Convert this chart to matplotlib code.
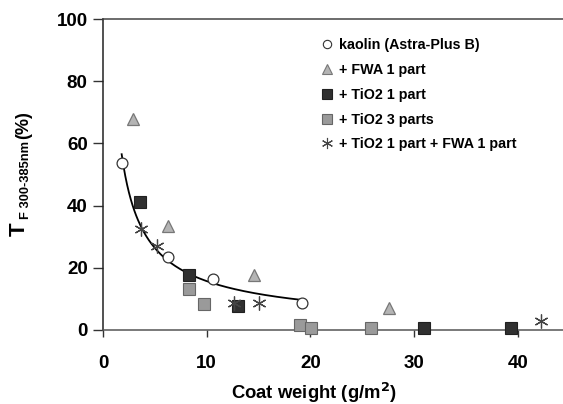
import numpy as np
import matplotlib
matplotlib.use("Agg")
import matplotlib.pyplot as plt
from matplotlib.lines import Line2D

plt.rcParams['font.family'] = ['Liberation Sans', 'DejaVu Sans']
plt.rcParams['font.weight'] = 'bold'

# Data
kaolin_x = [1.8, 6.3, 10.6, 19.2]
kaolin_y = [53.8, 23.6, 16.3, 8.8]
fwa_x = [2.9, 6.3, 14.6, 27.6]
fwa_y = [68.0, 33.4, 17.6, 7.2]
tio1_x = [3.6, 8.3, 13.0, 31.0, 39.3]
tio1_y = [41.3, 17.6, 7.8, 0.6, 0.6]
tio3_x = [8.3, 9.7, 19.0, 20.1, 25.8]
tio3_y = [13.3, 8.5, 1.7, 0.7, 0.6]
mix_x = [3.7, 5.2, 12.6, 15.0, 42.2]
mix_y = [32.4, 27.1, 8.7, 8.7, 2.9]

labels = ["kaolin (Astra-Plus B)", "+ FWA 1 part", "+ TiO2 1 part",
          "+ TiO2 3 parts", "+ TiO2 1 part + FWA 1 part"]
xticks = [0, 10, 20, 30, 40]
yticks = [0, 20, 40, 60, 80, 100]

W, H = 563, 404
fig = plt.figure(figsize=(W / 100, H / 100), dpi=100)
left, right, bottom, top = 103, 563, 74, 385
ax = fig.add_axes([left / W, bottom / H, (right - left) / W, (top - bottom) / H])

# power-law trendline fitted on kaolin points (log-log regression)
b, loga = np.polyfit(np.log(kaolin_x), np.log(kaolin_y), 1)
xf = np.linspace(min(kaolin_x), max(kaolin_x), 200)
ax.plot(xf, np.exp(loga) * xf ** b, color='black', lw=1.3, zorder=2)

star = (6, 2, 0)
ax.plot(kaolin_x, kaolin_y, 'o', ms=7.8, mfc='white', mec='#333333', mew=0.9, zorder=3)
ax.plot(fwa_x, fwa_y, '^', ms=9, mfc='#b4b4b4', mec='#777777', mew=0.9, zorder=3)
ax.plot(tio1_x, tio1_y, 's', ms=8, mfc='#303030', mec='#202020', mew=0.8, zorder=3)
ax.plot(tio3_x, tio3_y, 's', ms=8, mfc='#9a9a9a', mec='#666666', mew=0.8, zorder=3)
ax.plot(mix_x, mix_y, marker=star, ls='none', ms=10, mec='#444444', mew=0.9, zorder=3)

ax.set_xlim(0, 44.36)
ax.set_ylim(0, 100)
ax.set_xticks(xticks)
ax.set_yticks(yticks)
ax.tick_params(axis='both', labelsize=13.5, direction='out', width=1.0, color='#333333')
ax.tick_params(axis='x', length=5, pad=13)
ax.tick_params(axis='y', length=7, pad=4)
for lab in ax.get_xticklabels() + ax.get_yticklabels():
    lab.set_fontweight('bold')
ax.spines['right'].set_visible(False)
ax.spines['left'].set_color('#222222')
ax.spines['top'].set_color('#444444')
ax.spines['bottom'].set_color('#555555')
for s in ax.spines.values():
    s.set_linewidth(1.1)
for l in ax.lines:
    l.set_clip_on(False)

# x label
fig.text(314 / W, (H - 393) / H, r'Coat weight (g/m$^\mathbf{2}$)', ha='center', va='center',
         fontsize=13.3, fontweight='bold')

# y label pieces
fig.text(19 / W, (H - 236) / H, 'T', rotation=90, ha='center', va='bottom', fontsize=16, fontweight='bold')
fig.text(26 / W, (H - 219) / H, 'F 300-385nm', rotation=90, ha='center', va='bottom', fontsize=9.3, fontweight='bold')
fig.text(24 / W, (H - 139) / H, '(%)', rotation=90, ha='center', va='bottom', fontsize=13, fontweight='bold')

# legend
handles = [
    Line2D([], [], marker='o', ls='none', ms=6, mfc='white', mec='#333333', mew=0.8),
    Line2D([], [], marker='^', ls='none', ms=7, mfc='#b4b4b4', mec='#777777', mew=0.8),
    Line2D([], [], marker='s', ls='none', ms=6.5, mfc='#303030', mec='#202020', mew=0.8),
    Line2D([], [], marker='s', ls='none', ms=6.5, mfc='#9a9a9a', mec='#666666', mew=0.8),
    Line2D([], [], marker=star, ls='none', ms=8, mec='#444444', mew=0.8),
]
leg = fig.legend(handles, labels, loc='upper left', bbox_to_anchor=(320 / W, (H - 38) / H),
                 frameon=False, handlelength=0.95, handletextpad=0.4, labelspacing=0.76,
                 borderpad=0, borderaxespad=0, prop={'size': 10.3, 'weight': 'bold'})

fig.savefig('out.png', dpi=100)
